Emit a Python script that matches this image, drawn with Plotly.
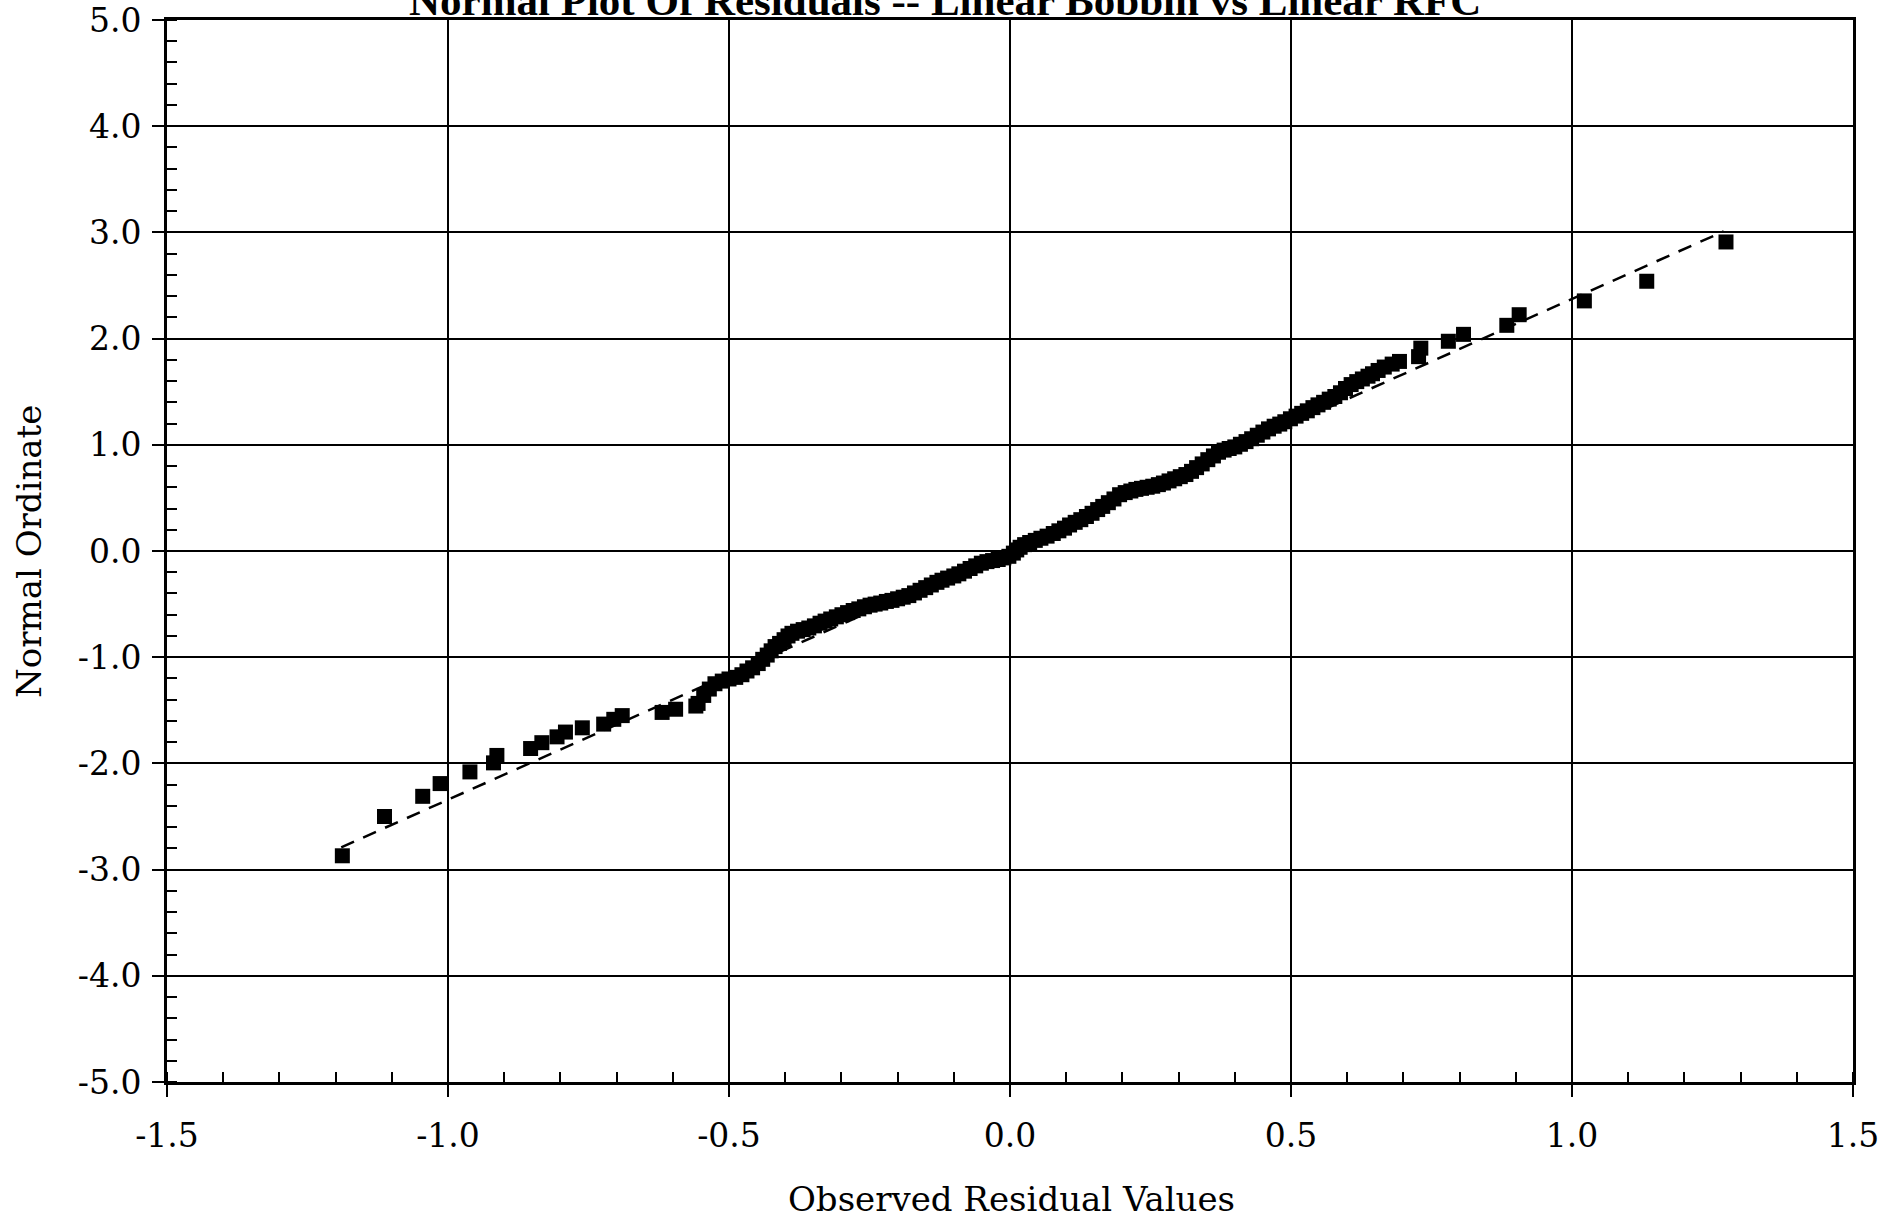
import plotly.graph_objects as go

# ---- data ----
# lower tail (individual points)
tail_low_x = [-1.188, -1.113, -1.045, -1.014, -0.961, -0.919, -0.913, -0.853, -0.833,
              -0.806, -0.791, -0.761, -0.723, -0.705, -0.690, -0.619, -0.595, -0.559]
tail_low_y = [-2.87, -2.50, -2.31, -2.19, -2.08, -1.995, -1.925, -1.86, -1.805,
              -1.75, -1.705, -1.665, -1.63, -1.585, -1.55, -1.52, -1.49, -1.46]

# dense central band
band_x = [-0.555, -0.545, -0.535, -0.525, -0.512, -0.500, -0.488, -0.477, -0.468, -0.458,
          -0.448, -0.440, -0.432, -0.425, -0.418, -0.410, -0.402, -0.395, -0.388, -0.378,
          -0.368, -0.358, -0.348, -0.338, -0.329, -0.319, -0.309, -0.299, -0.289, -0.279,
          -0.269, -0.259, -0.249, -0.240, -0.230, -0.220, -0.210, -0.200, -0.190, -0.180,
          -0.170, -0.160, -0.150, -0.140, -0.130, -0.121, -0.111, -0.100, -0.091, -0.081,
          -0.071, -0.061, -0.051, -0.041, -0.031, -0.021, -0.011, -0.002, 0.006, 0.012,
          0.018, 0.026, 0.035, 0.045, 0.055, 0.066, 0.077, 0.087, 0.097, 0.106,
          0.116, 0.126, 0.136, 0.146, 0.156, 0.165, 0.175, 0.185, 0.195, 0.205,
          0.215, 0.224, 0.234, 0.244, 0.254, 0.264, 0.273, 0.283, 0.293, 0.303,
          0.313, 0.323, 0.332, 0.342, 0.352, 0.362, 0.371, 0.381, 0.390, 0.400,
          0.410, 0.420, 0.430, 0.440, 0.450, 0.460, 0.470, 0.480, 0.489, 0.499,
          0.509, 0.519, 0.529, 0.539, 0.548, 0.558, 0.568, 0.578, 0.588, 0.597,
          0.607, 0.617, 0.627, 0.637, 0.645, 0.655, 0.666, 0.680, 0.693]
band_y = [-1.435, -1.36, -1.30, -1.25, -1.225, -1.205, -1.19, -1.165, -1.13, -1.10,
          -1.06, -1.02, -0.98, -0.94, -0.90, -0.87, -0.835, -0.80, -0.775, -0.755,
          -0.74, -0.725, -0.705, -0.68, -0.66, -0.64, -0.62, -0.60, -0.58, -0.56,
          -0.545, -0.525, -0.51, -0.50, -0.49, -0.475, -0.465, -0.45, -0.435, -0.42,
          -0.395, -0.37, -0.345, -0.32, -0.295, -0.275, -0.255, -0.235, -0.215, -0.19,
          -0.165, -0.14, -0.115, -0.10, -0.09, -0.08, -0.065, -0.05, -0.02, 0.01,
          0.035, 0.06, 0.08, 0.10, 0.12, 0.14, 0.165, 0.19, 0.215, 0.245,
          0.27, 0.295, 0.325, 0.355, 0.39, 0.42, 0.455, 0.49, 0.53, 0.55,
          0.565, 0.58, 0.59, 0.60, 0.61, 0.625, 0.64, 0.66, 0.68, 0.70,
          0.72, 0.75, 0.785, 0.82, 0.86, 0.895, 0.93, 0.95, 0.965, 0.98,
          1.005, 1.03, 1.057, 1.09, 1.12, 1.15, 1.175, 1.195, 1.217, 1.245,
          1.27, 1.296, 1.32, 1.35, 1.376, 1.40, 1.43, 1.455, 1.49, 1.53,
          1.567, 1.595, 1.62, 1.646, 1.669, 1.70, 1.732, 1.76, 1.785]

# upper tail (individual points)
tail_high_x = [0.727, 0.731, 0.780, 0.807, 0.884, 0.906, 1.022, 1.133, 1.274]
tail_high_y = [1.83, 1.91, 1.975, 2.04, 2.125, 2.225, 2.355, 2.54, 2.91]

# reference line
line_x = [-1.19, 1.27]
line_y = [-2.79, 3.01]

x_ticks = [-1.5, -1.0, -0.5, 0.0, 0.5, 1.0, 1.5]
y_ticks = [5.0, 4.0, 3.0, 2.0, 1.0, 0.0, -1.0, -2.0, -3.0, -4.0, -5.0]

title_text = "Normal Plot Of Residuals -- Linear Bobbin vs Linear RFC"
x_title = "Observed Residual Values"
y_title = "Normal Ordinate"

# ---- figure ----
W, H = 1887, 1219
L, R, T, B = 167, 34, 20, 137

pts_x = tail_low_x + band_x + tail_high_x
pts_y = tail_low_y + band_y + tail_high_y

fig = go.Figure()
fig.add_trace(go.Scatter(
    x=line_x, y=line_y, mode="lines",
    line=dict(color="black", width=2.5, dash="14px,10px"),
    hoverinfo="skip", showlegend=False))
fig.add_trace(go.Scatter(
    x=pts_x, y=pts_y, mode="markers",
    marker=dict(symbol="square", size=15, color="black", line=dict(width=0)),
    showlegend=False))

tick_font = dict(family="DejaVu Serif", size=33, color="black")

fig.update_xaxes(
    range=[-1.5, 1.5], tickvals=x_ticks, ticktext=[f"{v:.1f}" for v in x_ticks],
    showgrid=True, gridcolor="black", gridwidth=2, automargin=False,
    zeroline=False, showline=True, linecolor="black", linewidth=3, mirror=True,
    ticks="outside", ticklen=12, tickwidth=2, tickcolor="black",
    minor=dict(dtick=0.1, ticks="inside", ticklen=10, tickwidth=2, tickcolor="black", showgrid=False),
    tickfont=tick_font, ticklabelstandoff=10, ticklabeloverflow="allow")
fig.update_yaxes(
    range=[-5.0, 5.0], tickvals=y_ticks, ticktext=[f"{v:.1f}" for v in y_ticks],
    showgrid=True, gridcolor="black", gridwidth=2, automargin=False,
    zeroline=False, showline=True, linecolor="black", linewidth=3, mirror=True,
    ticks="outside", ticklen=12, tickwidth=2, tickcolor="black",
    minor=dict(dtick=0.2, ticks="inside", ticklen=10, tickwidth=2, tickcolor="black", showgrid=False),
    tickfont=tick_font, ticklabelstandoff=4, ticklabeloverflow="allow")

pw = W - L - R
ph = H - T - B
fig.update_layout(
    width=W, height=H,
    margin=dict(l=L, r=R, t=T, b=B, pad=0, autoexpand=False),
    paper_bgcolor="white", plot_bgcolor="white",
    annotations=[
        dict(text=f"<b>{title_text}</b>", xref="paper", yref="paper",
             x=(945 - L) / pw, y=1.0 - 6 / ph, xanchor="center", yanchor="bottom",
             showarrow=False, font=dict(family="Liberation Serif", size=43, color="black")),
        dict(text=x_title, xref="paper", yref="paper",
             x=(1011 - L) / pw, y=-(1199 - (H - B)) / ph, xanchor="center", yanchor="middle",
             showarrow=False, font=dict(family="DejaVu Serif", size=34, color="black")),
        dict(text=y_title, xref="paper", yref="paper", textangle=-90,
             x=-(L - 29) / pw, y=1 - (552 - T) / ph, xanchor="center", yanchor="middle",
             showarrow=False, font=dict(family="DejaVu Serif", size=34, color="black")),
    ],
)

fig.write_html(
    "out.html",
    config={"displayModeBar": False},
    post_script="document.body.style.margin='0';document.body.style.overflow='hidden';")
